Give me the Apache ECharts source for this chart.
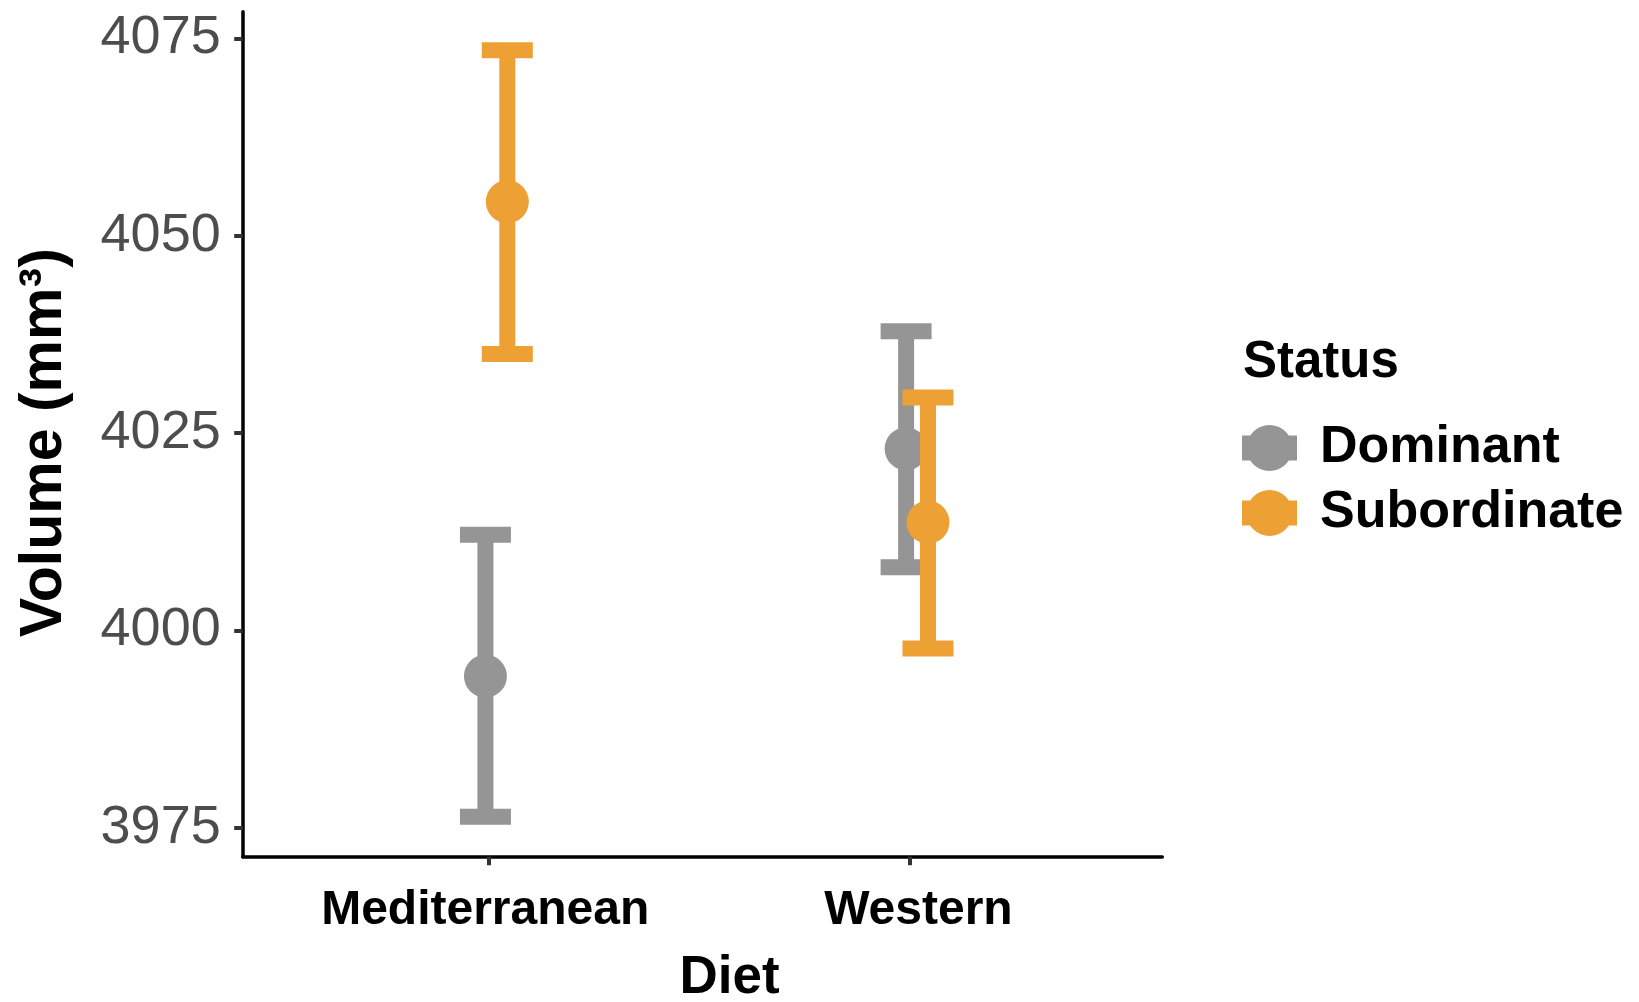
<!DOCTYPE html>
<html>
<head>
<meta charset="utf-8">
<title>Volume by Diet and Status</title>
<script src="https://cdn.jsdelivr.net/npm/echarts@6/dist/echarts.min.js"></script>
<style>
  html, body { margin: 0; padding: 0; background: #ffffff; }
  #chart { width: 1639px; height: 1002px; }
</style>
</head>
<body>
<div id="chart"></div>
<script>
// Diet groups on the x axis
const categories = ['Mediterranean', 'Western'];

// Dominant animals: mean volume and error-bar limits (mm³)
const dominantMean  = [3994.2, 4023.0];
const dominantLower = [3976.4, 4008.0];
const dominantUpper = [4012.1, 4037.9];

// Subordinate animals: mean volume and error-bar limits (mm³)
const subordinateMean  = [4054.3, 4013.7];
const subordinateLower = [4035.0, 3997.7];
const subordinateUpper = [4073.5, 4029.5];

// Tick labels on the volume axis
const yTicks = [3975, 4000, 4025, 4050, 4075];

const FONT = '"Liberation Sans", Arial, Helvetica, sans-serif';
const GREY = '#959595';
const ORANGE = '#EDA034';

// horizontal dodge of each status group around its diet position (axis units)
const DODGE = { Dominant: -0.009, Subordinate: 0.043 };

function buildRows(name, mean, lower, upper) {
  return categories.map((c, i) => [i + 1 + DODGE[name], mean[i], lower[i], upper[i]]);
}

// point + error bar drawn from axis coordinates
function pointRange(params, api) {
  const x = api.value(0);
  const pMean = api.coord([x, api.value(1)]);
  const pLow = api.coord([x, api.value(2)]);
  const pHigh = api.coord([x, api.value(3)]);
  const color = api.visual('color');
  const stemW = 16, capW = 51, capH = 16, r = 21.5;
  return {
    type: 'group',
    children: [
      { type: 'rect', shape: { x: pMean[0] - stemW / 2, y: pHigh[1], width: stemW, height: pLow[1] - pHigh[1] }, style: { fill: color } },
      { type: 'rect', shape: { x: pHigh[0] - capW / 2, y: pHigh[1] - capH / 2, width: capW, height: capH }, style: { fill: color } },
      { type: 'rect', shape: { x: pLow[0] - capW / 2, y: pLow[1] - capH / 2, width: capW, height: capH }, style: { fill: color } },
      { type: 'circle', shape: { cx: pMean[0], cy: pMean[1], r: r }, style: { fill: color } }
    ]
  };
}

// legend key: a dot over a short horizontal bar
const legendIcon = 'path://M0 10.5 H55 V35.5 H0 Z M4.5 23 A23 23 0 1 1 50.5 23 A23 23 0 1 1 4.5 23 Z';

const catLabelStyle = { fontFamily: FONT, fontSize: 48, fontWeight: 'bold', color: '#000000' };

const chart = echarts.init(document.getElementById('chart'), null, { renderer: 'canvas' });

chart.setOption({
  backgroundColor: '#ffffff',
  animation: false,
  title: {
    text: 'Status',
    left: 1238,
    top: 332,
    textStyle: { fontFamily: FONT, fontSize: 51, fontWeight: 'bold', color: '#000000' }
  },
  legend: {
    orient: 'vertical',
    left: 1237,
    top: 417,
    itemWidth: 55,
    itemHeight: 46,
    itemGap: 13,
    icon: legendIcon,
    data: ['Dominant', 'Subordinate'],
    textStyle: { fontFamily: FONT, fontSize: 52, fontWeight: 'bold', color: '#000000', padding: [0, 0, 0, 18] }
  },
  grid: {
    left: 242.7,
    right: 476.7,
    top: 11.7,
    bottom: 145.3,
    containLabel: false,
    outerBoundsMode: 'none'
  },
  xAxis: {
    type: 'value',
    min: 0.414,
    max: 2.6,
    name: 'Diet',
    nameLocation: 'middle',
    nameGap: 95,
    nameTextStyle: { fontFamily: FONT, fontSize: 53, fontWeight: 'bold', color: '#000000', padding: [0, 0, 0, 54] },
    axisLine: { show: true, onZero: false, lineStyle: { color: '#000000', width: 3.5 } },
    axisTick: { show: true, length: 8.5, customValues: [1, 2], lineStyle: { color: '#333333', width: 4 } },
    axisLabel: {
      customValues: [1, 2],
      margin: 30,
      formatter: v => (Math.round(v) === 1 ? '{m|' : '{w|') + categories[Math.round(v) - 1] + '}',
      rich: {
        m: Object.assign({ padding: [0, 8, 0, 0] }, catLabelStyle),
        w: Object.assign({ padding: [0, 0, 0, 17] }, catLabelStyle)
      },
      ...catLabelStyle
    },
    splitLine: { show: false }
  },
  yAxis: {
    type: 'value',
    min: 3971.33,
    max: 4078.37,
    name: 'Volume (mm³)',
    nameLocation: 'middle',
    nameGap: 168,
    nameTextStyle: { fontFamily: FONT, fontSize: 59, fontWeight: 'bold', color: '#000000', padding: [0, 17, 0, 0] },
    axisLine: { show: true, onZero: false, lineStyle: { color: '#000000', width: 3.5 } },
    axisTick: { show: true, length: 8.5, customValues: yTicks, lineStyle: { color: '#333333', width: 4 } },
    axisLabel: {
      customValues: yTicks,
      margin: 22,
      formatter: v => String(v),
      fontFamily: FONT, fontSize: 54, color: '#4D4D4D'
    },
    splitLine: { show: false }
  },
  series: [
    {
      name: 'Dominant',
      type: 'custom',
      renderItem: pointRange,
      itemStyle: { color: GREY },
      encode: { x: 0, y: [1, 2, 3] },
      data: buildRows('Dominant', dominantMean, dominantLower, dominantUpper),
      z: 2
    },
    {
      name: 'Subordinate',
      type: 'custom',
      renderItem: pointRange,
      itemStyle: { color: ORANGE },
      encode: { x: 0, y: [1, 2, 3] },
      data: buildRows('Subordinate', subordinateMean, subordinateLower, subordinateUpper),
      z: 3
    }
  ]
});
</script>
</body>
</html>
